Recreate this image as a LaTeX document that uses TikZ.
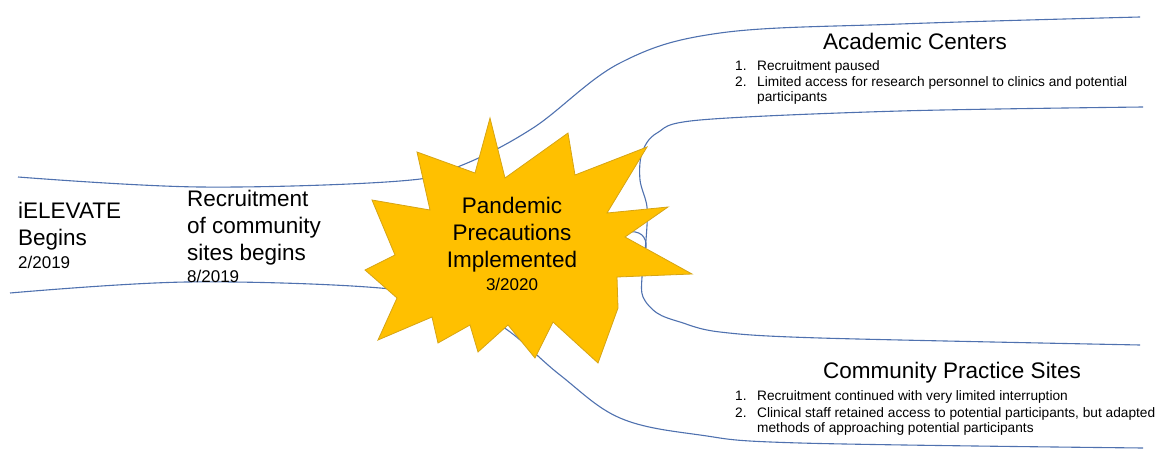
\documentclass[tikz,border=0pt]{standalone}
\usepackage{fontspec}
\setmainfont{Liberation Sans}
\usepackage{tikz}
\definecolor{streamblue}{RGB}{79,113,175}
\definecolor{burstgold}{RGB}{255,192,0}
\definecolor{burstedge}{RGB}{214,164,20}
\tikzset{
	stream/.style={draw=streamblue, line width=1.1pt},
	bigtxt/.style={inner sep=0pt, font=\fontsize{22.5}{27}\selectfont},
	datetxt/.style={inner sep=0pt, font=\fontsize{17}{20}\selectfont},
	itemtxt/.style={inner sep=0pt, anchor=base west, font=\fontsize{13.7}{16}\selectfont}
}

\begin{document}
\begin{tikzpicture}[x=1pt, y=-1pt]
				\useasboundingbox (0, 0) rectangle (1158, 449);
				% Streams:
				\draw[stream] plot[smooth, tension=0.6] coordinates {(18, 177) (200, 187) (400, 181) (460, 166) (533, 128) (620, 63) (720, 33) (900, 24) (1140, 17)};
				\draw[stream] plot[smooth, tension=0.6] coordinates {(10, 293) (187, 282) (380, 288) (450, 305) (503, 327) (560, 375) (620, 418) (700, 435) (800, 443) (1143, 448)};
				\draw[stream] plot[smooth, tension=0.55] coordinates {(1143, 107) (900, 111) (700, 120) (657, 133) (642, 153) (640, 180) (647, 207) (646, 240) (642, 277) (643, 297) (657, 313) (680, 322) (720, 332) (820, 338) (1140, 345)};
				\draw[stream] (626, 232) .. controls (640, 230) and (647, 236) .. (646, 248);
				% Burst:
				\draw[fill=burstgold, draw=burstedge, line width=0.8pt] (490, 118) -- (505, 178) -- (568, 133) -- (575, 175) -- (647, 147) -- (607, 213) -- (668, 207) -- (625, 237) -- (692, 274) -- (617, 277) -- (618, 308) -- (598, 363) -- (553, 322) -- (535, 358) -- (508, 325) -- (478, 352) -- (470, 325) -- (438, 343) -- (432, 317) -- (378, 340) -- (397, 298) -- (365, 270) -- (395, 255) -- (372, 200) -- (430, 210) -- (417, 152) -- (475, 173) -- cycle;
				% Labels:
				\node[bigtxt, anchor=base west](ielevate) at (18, 218){iELEVATE};
				\node[bigtxt, anchor=base west](begins) at (18, 245){Begins};
				\node[datetxt, anchor=base west](ielevatedate) at (18, 268){2/2019};
				\node[bigtxt, anchor=base west](recruit1) at (187, 206){Recruitment};
				\node[bigtxt, anchor=base west](recruit2) at (187, 233){of community};
				\node[bigtxt, anchor=base west](recruit3) at (187, 260){sites begins};
				\node[datetxt, anchor=base west](recruitdate) at (187, 282){8/2019};
				\node[bigtxt, anchor=base](pandemic) at (512, 213){Pandemic};
				\node[bigtxt, anchor=base](precautions) at (512, 240){Precautions};
				\node[bigtxt, anchor=base](implemented) at (512, 267){Implemented};
				\node[datetxt, anchor=base](pandemicdate) at (512, 290){3/2020};
				\node[bigtxt, anchor=base](academic) at (915, 50){Academic Centers};
				\node[itemtxt](acadnum1) at (735, 71){1.};
				\node[itemtxt](acad1) at (757, 71){Recruitment paused};
				\node[itemtxt](acadnum2) at (735, 87){2.};
				\node[itemtxt](acad2) at (757, 87){Limited access for research personnel to clinics and potential};
				\node[itemtxt](acad2b) at (757, 102){participants};
				\node[bigtxt, anchor=base](community) at (952, 378){Community Practice Sites};
				\node[itemtxt](commnum1) at (735, 400){1.};
				\node[itemtxt](comm1) at (757, 400){Recruitment continued with very limited interruption};
				\node[itemtxt](commnum2) at (735, 417){2.};
				\node[itemtxt](comm2) at (757, 417){Clinical staff retained access to potential participants, but adapted};
				\node[itemtxt](comm2b) at (757, 432){methods of approaching potential participants};
			\end{tikzpicture}
\end{document}
